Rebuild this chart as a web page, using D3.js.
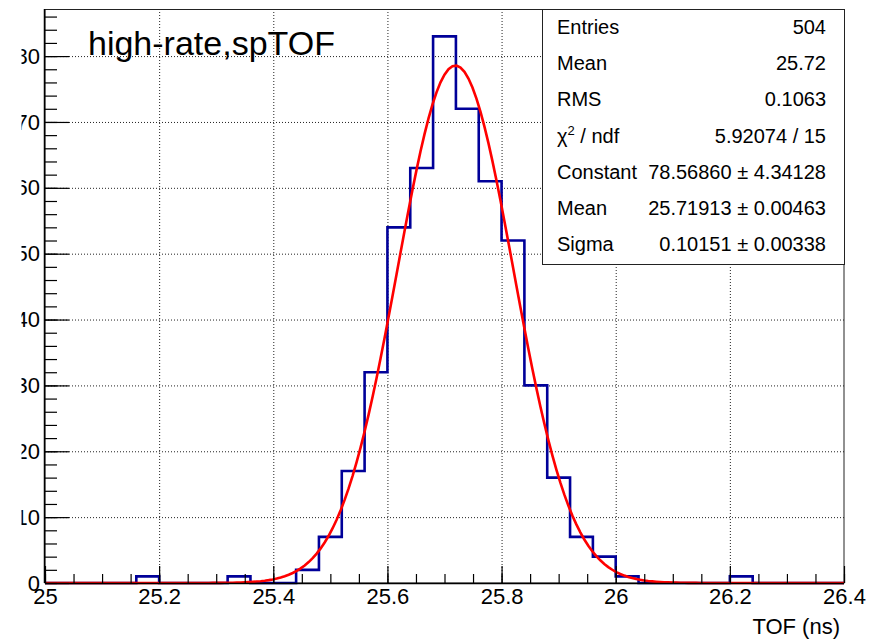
<!DOCTYPE html>
<html>
<head>
<meta charset="utf-8">
<script src="https://cdn.jsdelivr.net/npm/d3@7"></script>
<style>
  html, body { margin: 0; padding: 0; background: #fff; }
  svg { display: block; font-family: "Liberation Sans", Arial, Helvetica, sans-serif; }
</style>
</head>
<body>
<svg id="chart" width="882" height="640"></svg>
<script>
// ---- data ----
const binStart = 25.0;
const binWidth = 0.04;
const binCounts = [0,0,0,0,1,0,0,0,1,0,0,2,7,17,32,54,63,83,72,61,52,30,16,7,4,1,0,0,0,0,1,0,0,0,0];
const xTickValues = [25, 25.2, 25.4, 25.6, 25.8, 26, 26.2, 26.4];
const xTickLabels = ["25", "25.2", "25.4", "25.6", "25.8", "26", "26.2", "26.4"];
const yTickValues = [0, 10, 20, 30, 40, 50, 60, 70, 80];
const yTickLabels = ["0", "10", "20", "30", "40", "50", "60", "70", "80"];
const fitConstant = 78.56860;
const fitMean = 25.71913;
const fitSigma = 0.10151;
const statsLabels = ["Entries", "Mean", "RMS", "CHI", "Constant", "Mean", "Sigma"];
const statsValues = ["504", "25.72", "0.1063", "5.92074 / 15", "78.56860 \u00b1 4.34128", "25.71913 \u00b1 0.00463", "0.10151 \u00b1 0.00338"];
const titleText = "high-rate,spTOF";
const xAxisTitle = "TOF (ns)";

// ---- layout ----
const L = 45, R = 844, T = 9, B = 583;
const xDomain = [25, 26.4];
const yMax = 87.15;

const svg = d3.select("#chart");
const x = d3.scaleLinear().domain(xDomain).range([L, R]);
const y = d3.scaleLinear().domain([0, yMax]).range([B, T]);

const xMinor = d3.range(0, 29).map(i => +(25 + i * 0.05).toFixed(3));
const yMinor = d3.range(0, 44).map(i => i * 2);

// grid
svg.append("g").attr("transform", `translate(0,${B})`)
  .call(d3.axisBottom(x).tickValues(xTickValues.slice(1, -1)).tickSize(-(B - T)).tickFormat(""))
  .call(g => g.select(".domain").remove())
  .selectAll("line").attr("stroke", "#222").attr("stroke-dasharray", "1,2");
svg.append("g").attr("transform", `translate(${L},0)`)
  .call(d3.axisLeft(y).tickValues(yTickValues.slice(1)).tickSize(-(R - L)).tickFormat(""))
  .call(g => g.select(".domain").remove())
  .selectAll("line").attr("stroke", "#222").attr("stroke-dasharray", "1,2");

// frame
svg.append("rect").attr("x", L).attr("y", T + 0.5).attr("width", R - L).attr("height", B - T - 0.5)
  .attr("fill", "none").attr("stroke", "#222").attr("stroke-width", 1);

// histogram outline
const hist = [[x(binStart), y(0)]];
binCounts.forEach((c, i) => {
  const x0 = x(binStart + i * binWidth), x1 = x(binStart + (i + 1) * binWidth);
  hist.push([x0, y(c)], [x1, y(c)]);
});
hist.push([x(binStart + binCounts.length * binWidth), y(0)]);
svg.append("path").attr("d", d3.line()(hist))
  .attr("fill", "none").attr("stroke", "#000099").attr("stroke-width", 2.6).attr("stroke-linejoin", "miter");

// fit curve (gaussian with the displayed fit parameters)
const fitX = d3.range(0, 201).map(i => xDomain[0] + (xDomain[1] - xDomain[0]) * i / 200);
const fitPts = fitX.map(v => [x(v), y(fitConstant * Math.exp(-0.5 * Math.pow((v - fitMean) / fitSigma, 2)))]);
svg.append("path").attr("d", d3.line()(fitPts))
  .attr("fill", "none").attr("stroke", "#ff0000").attr("stroke-width", 2.6);

// axes
const gx = svg.append("g").attr("transform", `translate(0,${B})`)
  .call(d3.axisBottom(x).tickValues(xTickValues).tickSize(-17).tickPadding(5.5)
        .tickFormat((d, i) => xTickLabels[i]));
gx.select(".domain").attr("d", `M${L},0.5H${R}`).attr("stroke", "#000").attr("stroke-width", 1.5);
gx.selectAll("line").attr("stroke", "#000").attr("stroke-width", 1.2);
gx.selectAll("text").attr("font-size", 22).attr("fill", "#000").attr("font-family", "Liberation Sans, Arial, sans-serif");
const gxm = svg.append("g").attr("transform", `translate(0,${B})`)
  .call(d3.axisBottom(x).tickValues(xMinor).tickSize(-9).tickFormat(""));
gxm.select(".domain").remove();
gxm.selectAll("line").attr("stroke", "#000").attr("stroke-width", 1.2);

const gy = svg.append("g").attr("transform", `translate(${L},0)`)
  .call(d3.axisLeft(y).tickValues(yTickValues).tickSize(-24).tickPadding(5)
        .tickFormat((d, i) => yTickLabels[i]));
gy.select(".domain").attr("d", `M-0.5,${B}V${T}`).attr("stroke", "#000").attr("stroke-width", 1.5);
gy.selectAll("line").attr("stroke", "#000").attr("stroke-width", 1.2);
gy.selectAll("text").attr("font-size", 22).attr("fill", "#000").attr("font-family", "Liberation Sans, Arial, sans-serif");
const gym = svg.append("g").attr("transform", `translate(${L},0)`)
  .call(d3.axisLeft(y).tickValues(yMinor).tickSize(-12).tickFormat(""));
gym.select(".domain").remove();
gym.selectAll("line").attr("stroke", "#000").attr("stroke-width", 1.2);

// cropped left edge (reference image is cut there)
svg.append("rect").attr("x", 0).attr("y", 0).attr("width", 21.5).attr("height", 640).attr("fill", "#fff");

// title
svg.append("text").attr("x", 88).attr("y", 55).attr("font-size", 34).attr("fill", "#000").text(titleText);

// axis title
svg.append("text").attr("x", 840).attr("y", 634).attr("font-size", 22).attr("text-anchor", "end")
  .attr("fill", "#000").text(xAxisTitle);

// stats box
const sbL = 542, sbR = 844, sbT = 9, sbB = 264;
svg.append("rect").attr("x", sbL + 0.5).attr("y", sbT + 0.5).attr("width", sbR - sbL).attr("height", sbB - sbT)
  .attr("fill", "#fff").attr("stroke", "#222").attr("stroke-width", 1);
statsLabels.forEach((lab, i) => {
  const by = 34.3 + i * 36.07;
  const t = svg.append("text").attr("x", 557).attr("y", by).attr("font-size", 20).attr("fill", "#000");
  if (lab === "CHI") {
    t.append("tspan").text("\u03c7");
    t.append("tspan").attr("font-size", 13).attr("dy", -8).text("2");
    t.append("tspan").attr("dy", 8).text(" / ndf");
  } else {
    t.text(lab);
  }
  svg.append("text").attr("x", 826).attr("y", by).attr("font-size", 20).attr("text-anchor", "end")
    .attr("fill", "#000").text(statsValues[i]);
});
</script>
</body>
</html>
